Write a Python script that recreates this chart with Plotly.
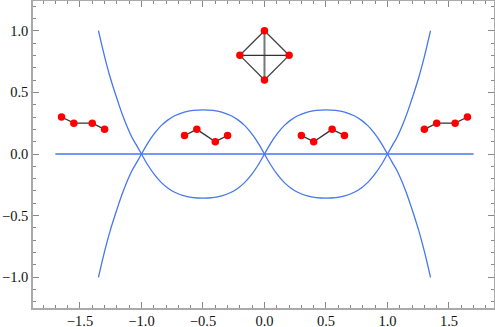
import plotly.graph_objects as go

# Curve samples
outer_x = [1.0, 1.04, 1.08, 1.148, 1.2, 1.256, 1.3, 1.35]
outer_y = [0.0, 0.07, 0.14, 0.30, 0.45, 0.627, 0.79, 1.0]
inner_x = [0.0, 0.05, 0.104, 0.16, 0.213, 0.27, 0.348, 0.42, 0.5, 0.58, 0.652, 0.73, 0.787, 0.84, 0.896, 0.95, 1.0]
inner_y = [0.0, 0.087, 0.165, 0.23, 0.275, 0.31, 0.34, 0.354, 0.358, 0.354, 0.34, 0.31, 0.275, 0.23, 0.165, 0.087, 0.0]
base_x = [-1.7, 1.7]
base_y = [0.0, 0.0]

# Small graph insets
chains = [
    ([-1.65, -1.55, -1.4, -1.3], [0.3, 0.25, 0.25, 0.2]),
    ([-0.65, -0.55, -0.4, -0.3], [0.15, 0.2, 0.1, 0.15]),
    ([0.3, 0.4, 0.55, 0.65], [0.15, 0.1, 0.2, 0.15]),
    ([1.3, 1.4, 1.55, 1.65], [0.2, 0.25, 0.25, 0.3]),
]
diamond_x = [0.0, 0.2, 0.0, -0.2]
diamond_y = [1.0, 0.8, 0.6, 0.8]

x_ticks = [-1.5, -1.0, -0.5, 0.0, 0.5, 1.0, 1.5]
y_ticks = [-1.0, -0.5, 0.0, 0.5, 1.0]

BLUE = "#4477f0"
EDGE = "#333333"
RED = "#ff0000"

fig = go.Figure()

def curve(x, y):
    fig.add_trace(go.Scatter(x=x, y=y, mode="lines", line=dict(color=BLUE, width=1.3, shape="spline", smoothing=1.0),
                             hoverinfo="skip", showlegend=False))

curve(base_x, base_y)
for sx in (1, -1):
    for sy in (1, -1):
        curve([sx * v for v in outer_x], [sy * v for v in outer_y])
        curve([sx * v for v in inner_x], [sy * v for v in inner_y])

for cx, cy in chains:
    fig.add_trace(go.Scatter(x=cx, y=cy, mode="lines", line=dict(color=EDGE, width=1.3), hoverinfo="skip", showlegend=False))

fig.add_trace(go.Scatter(x=[diamond_x[i] for i in (0, 1, 2, 3, 0)], y=[diamond_y[i] for i in (0, 1, 2, 3, 0)],
                         mode="lines", line=dict(color="#444444", width=1.3), hoverinfo="skip", showlegend=False))
fig.add_trace(go.Scatter(x=[diamond_x[0], diamond_x[2]], y=[diamond_y[0], diamond_y[2]],
                         mode="lines", line=dict(color="#777777", width=2), hoverinfo="skip", showlegend=False))
fig.add_trace(go.Scatter(x=[diamond_x[3], diamond_x[1]], y=[diamond_y[3], diamond_y[1]],
                         mode="lines", line=dict(color="#333333", width=1.2), hoverinfo="skip", showlegend=False))

for cx, cy in chains + [(diamond_x, diamond_y)]:
    fig.add_trace(go.Scatter(x=cx, y=cy, mode="markers", marker=dict(color=RED, size=7.5, line=dict(width=0)),
                             hoverinfo="skip", showlegend=False))

axis = dict(showgrid=False, zeroline=False, showline=True, linecolor="#aaaaaa", linewidth=1.5, automargin=False,
            mirror="allticks", ticks="inside", ticklen=6, tickwidth=1, tickcolor="#888888",
            tickfont=dict(family="Liberation Serif", size=14.5, color="#111111"), tickformat=".1f",
            minor=dict(ticks="inside", ticklen=3.5, tickwidth=1, tickcolor="#888888", dtick=0.1, showgrid=False))

fig.update_layout(width=495, height=327, margin=dict(l=33, r=1, t=1, b=19), autosize=False,
                  paper_bgcolor="white", plot_bgcolor="white", showlegend=False)
fig.update_xaxes(range=[-1.882, 1.866], tickvals=x_ticks, ticklabelstandoff=-1, **axis)
fig.update_yaxes(range=[-1.249, 1.241], tickvals=y_ticks, **axis)

fig.write_html("out.html", config=dict(displayModeBar=False),
               post_script="document.body.style.margin='0';document.body.style.overflow='hidden';")
